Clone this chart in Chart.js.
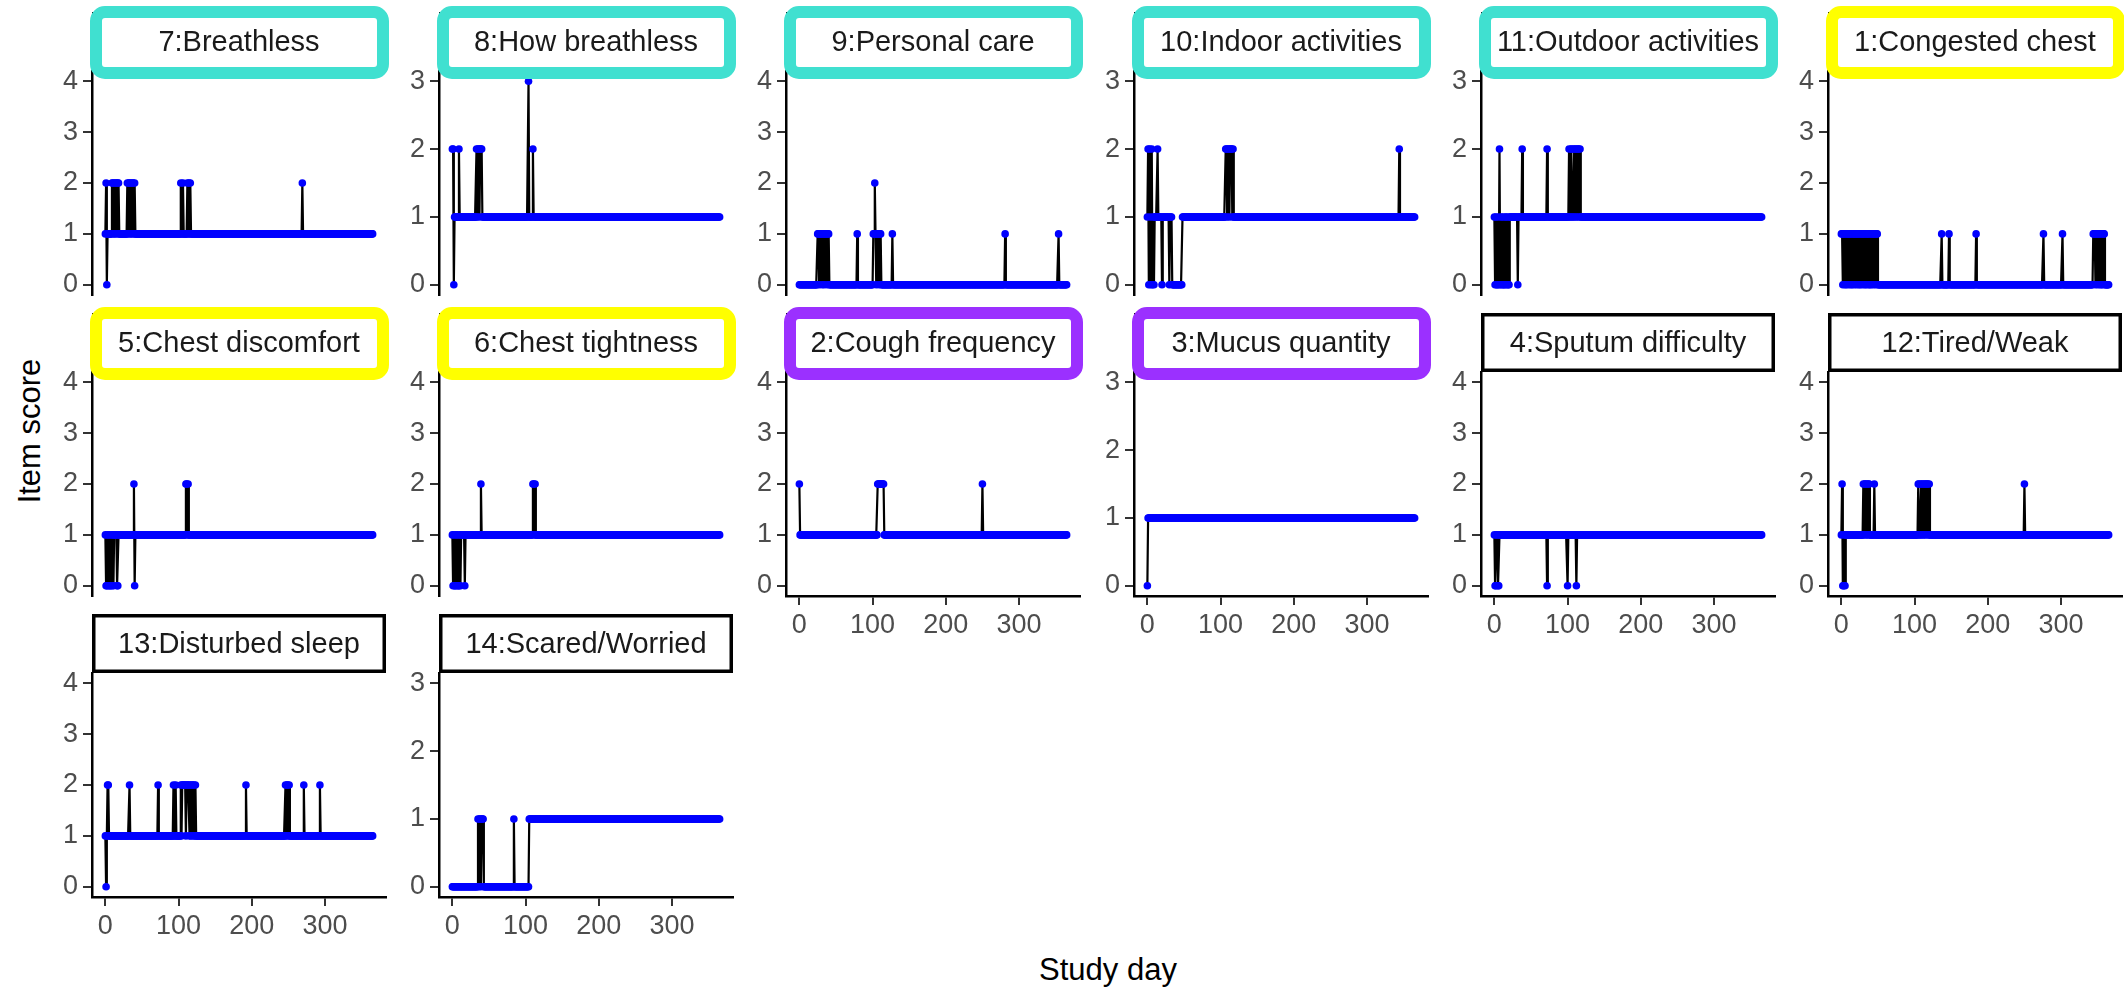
<!DOCTYPE html>
<html>
<head>
<meta charset="utf-8">
<script src="https://cdn.jsdelivr.net/npm/chart.js@4.4.1/dist/chart.umd.min.js"></script>
<style>
  html, body { margin: 0; padding: 0; background: #fff; overflow: hidden; }
  body { width: 2124px; height: 987px; position: relative; font-family: "Liberation Sans", Arial, sans-serif; }
  canvas { position: absolute; }
  .titulo { position: absolute; color: #000; font-size: 31px; white-space: nowrap; }
  #tituloX { left: 1108px; top: 970px; transform: translate(-50%, -50%); }
  #tituloY { left: 30px; top: 431px; transform: translate(-50%, -50%) rotate(-90deg); }
</style>
</head>
<body>
<div class="titulo" id="tituloX">Study day</div>
<div class="titulo" id="tituloY">Item score</div>
<script>
// Puntuaciones diarias (dias 0-365), un digito por dia, grupos de 10 dias
const breathless = `
1201111112 2121221221 1111111111 2122121221 2111111111 1111111111
1111111111 1111111111 1111111111 1111111111 1112112111 1121212111
1111111111 1111111111 1111111111 1111111111 1111111111 1111111111
1111111111 1111111111 1111111111 1111111111 1111111111 1111111111
1111111111 1111111111 1111111112 1111111111 1111111111 1111111111
1111111111 1111111111 1111111111 1111111111 1111111111 1111111111
111111`;

const howBreathless = `
2201111112 1111111111 1111111111 1112122122 2111111111 1111111111
1111111111 1111111111 1111111111 1111111111 1111311111 2111111111
1111111111 1111111111 1111111111 1111111111 1111111111 1111111111
1111111111 1111111111 1111111111 1111111111 1111111111 1111111111
1111111111 1111111111 1111111111 1111111111 1111111111 1111111111
1111111111 1111111111 1111111111 1111111111 1111111111 1111111111
111111`;

const personalCare = `
0000000000 0000000000 0000011011 1011011101 1000000000 0000000000
0000000000 0000000001 0000000000 0000000000 0112101110 1100000000
0000000100 0000000000 0000000000 0000000000 0000000000 0000000000
0000000000 0000000000 0000000000 0000000000 0000000000 0000000000
0000000000 0000000000 0000000000 0000000000 0100000000 0000000000
0000000000 0000000000 0000000000 0000000000 0000000000 0000100000
000000`;

const indoorActivities = `
1202102010 1111211111 0111111111 0111000000 0000000011 1111111111
1111111111 1111111111 1111111111 1111111111 1111111221 2212221211
1111111111 1111111111 1111111111 1111111111 1111111111 1111111111
1111111111 1111111111 1111111111 1111111111 1111111111 1111111111
1111111111 1111111111 1111111111 1111111111 1111111111 1111111111
1111111111 1111111111 1111111111 1111111111 1111211111 1111111111
111111`;

const outdoorActivities = `
1010010201 0100101010 0111111111 1101111121 1111111111 1111111111
1111111111 1121111111 1111111111 1111111111 1121122112 2121221211
1111111111 1111111111 1111111111 1111111111 1111111111 1111111111
1111111111 1111111111 1111111111 1111111111 1111111111 1111111111
1111111111 1111111111 1111111111 1111111111 1111111111 1111111111
1111111111 1111111111 1111111111 1111111111 1111111111 1111111111
111111`;

const congestedChest = `
1101101011 0110101101 1011010110 1101011010 1011011011 0000000000
0000000000 0000000000 0000000000 0000000000 0000000000 0000000000
0000000000 0000000100 0000000100 0000000000 0000000000 0000000000
0000100000 0000000000 0000000000 0000000000 0000000000 0000000000
0000000000 0000000000 0000000000 0000001000 0000000000 0000000000
0010000000 0000000000 0000000000 0000000000 0000111011 0110101011
000000`;

const chestDiscomfort = `
1001010010 1011110011 1111111111 1111111112 0111111111 1111111111
1111111111 1111111111 1111111111 1111111111 1111111111 2212111111
1111111111 1111111111 1111111111 1111111111 1111111111 1111111111
1111111111 1111111111 1111111111 1111111111 1111111111 1111111111
1111111111 1111111111 1111111111 1111111111 1111111111 1111111111
1111111111 1111111111 1111111111 1111111111 1111111111 1111111111
111111`;

const chestTightness = `
1010010100 1011111011 1111111111 1111111112 1111111111 1111111111
1111111111 1111111111 1111111111 1111111111 1111111111 2212111111
1111111111 1111111111 1111111111 1111111111 1111111111 1111111111
1111111111 1111111111 1111111111 1111111111 1111111111 1111111111
1111111111 1111111111 1111111111 1111111111 1111111111 1111111111
1111111111 1111111111 1111111111 1111111111 1111111111 1111111111
111111`;

const coughFrequency = `
2111111111 1111111111 1111111111 1111111111 1111111111 1111111111
1111111111 1111111111 1111111111 1111111111 1111111222 2222221111
1111111111 1111111111 1111111111 1111111111 1111111111 1111111111
1111111111 1111111111 1111111111 1111111111 1111111111 1111111111
1111111111 2111111111 1111111111 1111111111 1111111111 1111111111
1111111111 1111111111 1111111111 1111111111 1111111111 1111111111
111111`;

const mucusQuantity = `
0111111111 1111111111 1111111111 1111111111 1111111111 1111111111
1111111111 1111111111 1111111111 1111111111 1111111111 1111111111
1111111111 1111111111 1111111111 1111111111 1111111111 1111111111
1111111111 1111111111 1111111111 1111111111 1111111111 1111111111
1111111111 1111111111 1111111111 1111111111 1111111111 1111111111
1111111111 1111111111 1111111111 1111111111 1111111111 1111111111
111111`;

const sputumDifficulty = `
1001100111 1111111111 1111111111 1111111111 1111111111 1111111111
1111111111 1101111111 1111111111 1111111111 0111111111 1101111111
1111111111 1111111111 1111111111 1111111111 1111111111 1111111111
1111111111 1111111111 1111111111 1111111111 1111111111 1111111111
1111111111 1111111111 1111111111 1111111111 1111111111 1111111111
1111111111 1111111111 1111111111 1111111111 1111111111 1111111111
111111`;

const tiredWeak = `
1200101111 1111111111 1111111111 2122121221 1111121111 1111111111
1111111111 1111111111 1111111111 1111111111 1111122112 2121221221
2111111111 1111111111 1111111111 1111111111 1111111111 1111111111
1111111111 1111111111 1111111111 1111111111 1111111111 1111111111
1111111111 2111111111 1111111111 1111111111 1111111111 1111111111
1111111111 1111111111 1111111111 1111111111 1111111111 1111111111
111111`;

const disturbedSleep = `
1012211111 1111111111 1111111111 1112111111 1111111111 1111111111
1111111111 1121111111 1111111111 1112112111 1112122222 1222212122
1212111111 1111111111 1111111111 1111111111 1111111111 1111111111
1111111111 1121111111 1111111111 1111111111 1111111111 1111111111
1111112122 1211111111 1111111111 1211111111 1111111111 1112111111
1111111111 1111111111 1111111111 1111111111 1111111111 1111111111
111111`;

const scaredWorried = `
0000000000 0000000000 0000000000 0000010110 1110000000 0000000000
0000000000 0000000000 0000100000 0000000000 0000011111 1111111111
1111111111 1111111111 1111111111 1111111111 1111111111 1111111111
1111111111 1111111111 1111111111 1111111111 1111111111 1111111111
1111111111 1111111111 1111111111 1111111111 1111111111 1111111111
1111111111 1111111111 1111111111 1111111111 1111111111 1111111111
111111`;

const items = ['7:Breathless', '8:How breathless', '9:Personal care', '10:Indoor activities',
  '11:Outdoor activities', '1:Congested chest', '5:Chest discomfort', '6:Chest tightness',
  '2:Cough frequency', '3:Mucus quantity', '4:Sputum difficulty', '12:Tired/Weak',
  '13:Disturbed sleep', '14:Scared/Worried'];
const scores = [breathless, howBreathless, personalCare, indoorActivities, outdoorActivities,
  congestedChest, chestDiscomfort, chestTightness, coughFrequency, mucusQuantity,
  sputumDifficulty, tiredWeak, disturbedSleep, scaredWorried];
const itemMax = [4, 3, 4, 3, 3, 4, 4, 4, 4, 3, 4, 4, 4, 3];
const dayTicks = [0, 100, 200, 300];
const scoreTicks = [0, 1, 2, 3, 4];

// estilo: marco de color sobre la franja
const marcos = ['#40e0d0', '#40e0d0', '#40e0d0', '#40e0d0', '#40e0d0', '#ffff00',
  '#ffff00', '#ffff00', '#9b30ff', '#9b30ff', null, null, null, null];

const FUENTE = '"Liberation Sans", Arial, sans-serif';
const ANCHO_Y = 56;
const ALTO_X = 52;
const FRANJA = 59;
const EXTRA = 8;

const franja = {
  id: 'franja',
  afterDraw(chart, args, opts) {
    const { ctx, chartArea: { left, right, top } } = chart;
    ctx.save();
    ctx.fillStyle = '#fff';
    ctx.fillRect(left, top - FRANJA, right - left, FRANJA);
    ctx.strokeStyle = '#000';
    ctx.lineWidth = 3.5;
    ctx.strokeRect(left + 1.75, top - FRANJA + 1.75, right - left - 3.5, FRANJA - 3.5);
    ctx.fillStyle = '#1a1a1a';
    ctx.font = '29px ' + FUENTE;
    ctx.textAlign = 'center';
    ctx.textBaseline = 'middle';
    ctx.fillText(opts.texto, (left + right) / 2, top - FRANJA / 2 + 1);
    if (opts.marco) {
      ctx.strokeStyle = opts.marco;
      ctx.lineWidth = 12;
      ctx.beginPath();
      ctx.roundRect(left + 4, top - FRANJA, right - left - 7, FRANJA + 2, 9);
      ctx.stroke();
    }
    ctx.restore();
  }
};

function dibujarPanel(i) {
  const fila = Math.floor(i / 6);
  const col = i % 6;
  const izq = Math.round(92 + 347.2 * col);
  const arriba = 71 + 301 * fila;
  const ancho = 294;
  const alto = 224;
  const conEjeX = i >= 8;
  const max = itemMax[i];

  const canvas = document.createElement('canvas');
  canvas.width = ANCHO_Y + ancho + 10;
  canvas.height = EXTRA + FRANJA + alto + (conEjeX ? ALTO_X : 8);
  canvas.style.left = (izq - ANCHO_Y) + 'px';
  canvas.style.top = (arriba - FRANJA - EXTRA) + 'px';
  document.body.appendChild(canvas);

  const valores = scores[i].replace(/\s+/g, '').split('').map(Number);

  new Chart(canvas, {
    type: 'line',
    data: {
      datasets: [{
        data: valores.map((v, dia) => ({ x: dia, y: v })),
        borderColor: '#000',
        borderWidth: 2.2,
        pointRadius: 3.8,
        pointBackgroundColor: '#0000ff',
        pointBorderWidth: 0,
        tension: 0
      }]
    },
    options: {
      responsive: false,
      animation: false,
      devicePixelRatio: 1,
      events: [],
      layout: { padding: { top: EXTRA + FRANJA, left: 0, right: 10, bottom: conEjeX ? 0 : 8 } },
      plugins: {
        legend: { display: false },
        tooltip: { enabled: false },
        franja: { texto: items[i], marco: marcos[i] }
      },
      scales: {
        x: {
          type: 'linear',
          min: -18.25,
          max: 383.25,
          display: conEjeX,
          afterBuildTicks: (s) => { s.ticks = dayTicks.map((v) => ({ value: v })); },
          afterFit: (s) => {
            if (conEjeX) s.height = ALTO_X;
            s.paddingLeft = 0; s.paddingRight = 0;
          },
          grid: { drawOnChartArea: false, drawTicks: true, tickLength: 9, color: '#333', lineWidth: 2 },
          border: { display: true, color: '#000', width: 2.5 },
          ticks: { font: { size: 27, family: FUENTE }, color: '#4d4d4d', padding: 4, maxRotation: 0, autoSkip: false }
        },
        y: {
          type: 'linear',
          min: -0.05 * max,
          max: 1.05 * max,
          afterBuildTicks: (s) => { s.ticks = scoreTicks.filter((v) => v <= max).map((v) => ({ value: v })); },
          afterFit: (s) => {
            s.width = ANCHO_Y;
            s.paddingTop = 0; s.paddingBottom = 0;
          },
          grid: { drawOnChartArea: false, drawTicks: true, tickLength: 9, color: '#333', lineWidth: 2 },
          border: { display: true, color: '#000', width: 2.5 },
          ticks: { font: { size: 27, family: FUENTE }, color: '#4d4d4d', padding: 5 }
        }
      }
    },
    plugins: [franja]
  });
}

items.forEach((_, i) => dibujarPanel(i));
</script>
</body>
</html>
